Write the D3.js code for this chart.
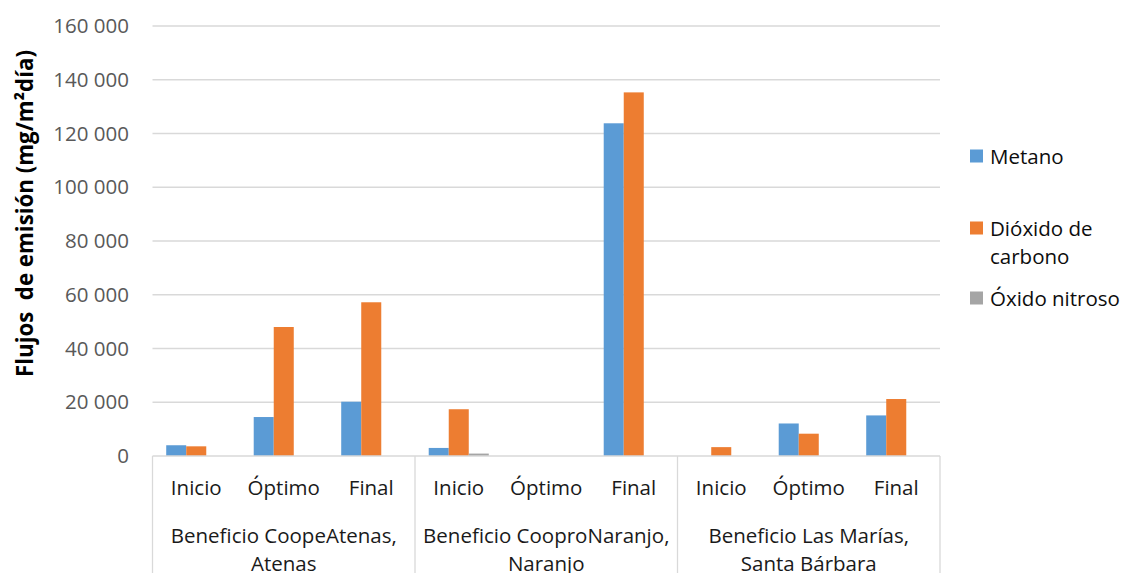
<!DOCTYPE html>
<html>
<head>
<meta charset="utf-8">
<script src="https://cdn.jsdelivr.net/npm/d3@7"></script>
<style>
  html, body { margin: 0; padding: 0; background: #fff; }
  svg { display: block; font-family: "Open Sans", Lato, sans-serif; }
</style>
</head>
<body>
<svg id="chart" width="1122" height="573"></svg>
<script>
// Sites and sampling stages
const groups = ["Beneficio CoopeAtenas,|Atenas", "Beneficio CooproNaranjo,|Naranjo", "Beneficio Las Marías,|Santa Bárbara"];
const stages = ["Inicio", "Óptimo", "Final"];
const seriesNames = ["Metano", "Dióxido de carbono", "Óxido nitroso"];
const seriesColors = ["#5B9BD5", "#ED7D31", "#A5A5A5"];

// Emission fluxes (mg/m²día), one value per group × stage
const metano  = [4000, 14500, 20200,  3000, 0, 123800,  0, 12100, 15100];
const dioxido = [3600, 48000, 57200, 17400, 0, 135300, 3300,  8300, 21200];
const oxido   = [   0,     0,     0,   900, 0,      0,    0,     0,     0];

const yTicks = [0, 20000, 40000, 60000, 80000, 100000, 120000, 140000, 160000];

const svg = d3.select("#chart");
const plotLeft = 152.5, plotRight = 940, plotTop = 26, plotBottom = 456;
const fs = "20.5px";

const cats = [];
groups.forEach((g, gi) => stages.forEach((s, si) => cats.push({ key: gi + "-" + si, g: gi, stage: s })));
const values = [metano, dioxido, oxido];

const x0 = d3.scaleBand().domain(cats.map(c => c.key)).range([plotLeft, plotRight]).paddingInner(0).paddingOuter(0);
const x1 = d3.scaleBand().domain(d3.range(3)).range([0, x0.bandwidth()]).paddingInner(0).paddingOuter(0.685);
const y = d3.scaleLinear().domain([0, 160000]).range([plotBottom, plotTop]);

const fmt = v => d3.format(",")(v).replace(/,/g, " ");

// Gridlines
svg.append("g").selectAll("line").data(yTicks.filter(t => t > 0)).join("line")
  .attr("x1", plotLeft).attr("x2", plotRight)
  .attr("y1", d => y(d)).attr("y2", d => y(d))
  .attr("stroke", "#d9d9d9").attr("stroke-width", 1.3);

// Y tick labels
const yAxis = d3.axisLeft(y).tickValues(yTicks).tickFormat(fmt).tickSize(0).tickPadding(0);
const ya = svg.append("g").attr("transform", `translate(129,0)`).call(yAxis);
ya.select(".domain").remove();
ya.selectAll("text").attr("fill", "#595959").style("font-size", fs)
  .style("font-family", "'Open Sans', sans-serif");

// Bars
const barG = svg.append("g");
cats.forEach((c, ci) => {
  values.forEach((arr, si) => {
    const v = arr[ci];
    if (!v) return;
    barG.append("rect")
      .attr("x", x0(c.key) + x1(si))
      .attr("width", x1.bandwidth())
      .attr("y", y(v))
      .attr("height", y(0) - y(v))
      .attr("fill", seriesColors[si]);
  });
});

// Category axis line and group separators
svg.append("line").attr("x1", plotLeft).attr("x2", plotRight).attr("y1", plotBottom).attr("y2", plotBottom)
  .attr("stroke", "#d9d9d9").attr("stroke-width", 1.3);
const sepX = [0, 3, 6].map(i => x0(cats[i].key)).concat([plotRight]);
svg.append("g").selectAll("line").data(sepX).join("line")
  .attr("x1", d => d).attr("x2", d => d).attr("y1", plotBottom).attr("y2", 573)
  .attr("stroke", "#d9d9d9").attr("stroke-width", 1.3);

// Stage labels
svg.append("g").selectAll("text").data(cats).join("text")
  .attr("x", d => x0(d.key) + x0.bandwidth() / 2)
  .attr("y", 495)
  .attr("text-anchor", "middle")
  .attr("fill", "#1a1a1a")
  .style("font-size", fs)
  .text(d => d.stage);

// Group labels (two lines)
groups.forEach((g, gi) => {
  const cx = (sepX[gi] + sepX[gi + 1]) / 2;
  const lines = g.split("|");
  lines.forEach((ln, li) => {
    svg.append("text")
      .attr("x", cx).attr("y", 543 + li * 27.5)
      .attr("text-anchor", "middle")
      .attr("fill", "#1a1a1a")
      .style("font-size", fs)
      .text(ln);
  });
});

// Y axis title, sized to span the axis height
const title = svg.append("text")
  .attr("transform", "translate(33,213.5) rotate(-90)")
  .attr("text-anchor", "middle")
  .attr("fill", "#000")
  .style("font-size", "21px")
  .style("font-weight", "bold")
  .style("white-space", "pre")
  .text("Flujos\u00a0 de emisión (mg/m²día)");
const titleLen = title.node().getComputedTextLength();
if (titleLen > 0) title.style("font-size", Math.min(24, 21 * 327 / titleLen) + "px");

// Legend
const legend = [
  { i: 0, lines: ["Metano"], y: 156 },
  { i: 1, lines: ["Dióxido de", "carbono"], y: 228 },
  { i: 2, lines: ["Óxido nitroso"], y: 298 }
];
legend.forEach(l => {
  svg.append("rect").attr("x", 970).attr("y", l.y - 6.5).attr("width", 13).attr("height", 13)
    .attr("fill", seriesColors[l.i]);
  l.lines.forEach((t, k) => {
    svg.append("text").attr("x", 990).attr("y", l.y + 7.5 + k * 28)
      .attr("fill", "#0d0d0d").style("font-size", fs).text(t);
  });
});
</script>
</body>
</html>
